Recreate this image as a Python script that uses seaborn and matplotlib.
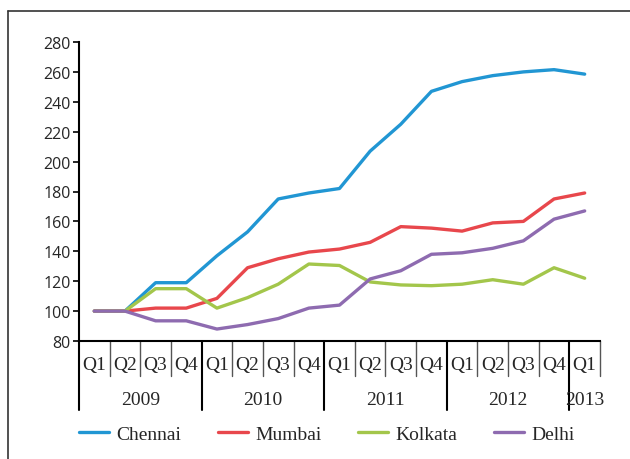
import matplotlib
matplotlib.use("Agg")
import matplotlib.pyplot as plt
import matplotlib.transforms as mtransforms
from matplotlib.lines import Line2D
import numpy as np
import pandas as pd
import seaborn as sns

# data (index, Q1 2009 = 100)
quarters = ["Q1", "Q2", "Q3", "Q4"] * 4 + ["Q1"]
years = ["2009", "2010", "2011", "2012", "2013"]
quarters_per_year = [4, 4, 4, 4, 1]
cities = ["Chennai", "Mumbai", "Kolkata", "Delhi"]
colors = ["#2196d3", "#e8474c", "#a3c64b", "#8e6bb0"]

chennai = [100, 100, 119, 119, 137, 153, 175, 179, 182, 207, 225, 247, 253.5, 257.5, 260, 261.5, 258.5]
mumbai = [100, 100, 102, 102, 108.5, 129, 135, 139.5, 141.5, 146, 156.5, 155.5, 153.5, 159, 160, 175, 179]
kolkata = [100, 100, 115, 115, 102, 109, 118, 131.5, 130.5, 119.5, 117.5, 117, 118, 121, 118, 129, 122]
delhi = [100, 100, 93.5, 93.5, 88, 91, 95, 102, 104, 121.5, 127, 138, 139, 142, 147, 161.5, 167]

n = len(quarters)
pos = np.arange(n)
df = pd.DataFrame({
    "pos": np.tile(pos, 4),
    "value": chennai + mumbai + kolkata + delhi,
    "city": np.repeat(cities, n),
})

sns.set_theme(style="white")
plt.rcParams["font.family"] = ["Open Sans", "DejaVu Sans"]

fig = plt.figure(figsize=(6.3, 4.6), dpi=100)
ax = fig.add_axes([79 / 630, 1 - 342 / 460, 521 / 630, 299 / 460])

sns.lineplot(data=df, x="pos", y="value", hue="city", hue_order=cities,
             palette=colors, linewidth=2.4, ax=ax, legend=False)

ax.set_xlim(-0.5, n - 0.5)
ax.set_ylim(80, 280)
ax.set_yticks(np.arange(80, 281, 20))
ax.tick_params(axis="y", direction="out", length=4, width=1.2, color="black",
               labelsize=11.5, pad=2, left=True)
ax.set_xlabel("")
ax.set_ylabel("")

serif = ["Liberation Serif", "DejaVu Serif"]
ax.set_xticks(pos)
ax.set_xticklabels(quarters, fontfamily=serif, fontsize=14)
ax.tick_params(axis="x", length=0, pad=11)

for side in ["top", "right"]:
    ax.spines[side].set_visible(False)
for side in ["left", "bottom"]:
    ax.spines[side].set_color("black")
    ax.spines[side].set_linewidth(1.5)

# category separators below the axis
trans = mtransforms.blended_transform_factory(ax.transData, ax.transAxes)
year_edges = np.concatenate([[0], np.cumsum(quarters_per_year)]) - 0.5
for k in range(n + 1):
    x = k - 0.5
    if np.isclose(year_edges[:-1], x).any():
        ax.plot([x, x], [0, -0.231], transform=trans, color="black", lw=1.5,
                clip_on=False)
    else:
        ax.plot([x, x], [0, -0.117], transform=trans, color="#555555", lw=1.0,
                clip_on=False)

for i, yr in enumerate(years):
    centre = (year_edges[i] + year_edges[i + 1]) / 2
    ax.text(centre, -0.194, yr, transform=trans, ha="center", va="center",
            fontfamily=serif, fontsize=14)

handles = [Line2D([0], [0], color=c, lw=2.4) for c in colors]
fig.legend(handles, cities, loc="center left", bbox_to_anchor=(79 / 630, 1 - 435 / 460),
           ncol=4, frameon=False, borderpad=0, borderaxespad=0, handlelength=1.55,
           handletextpad=0.36, columnspacing=1.9, prop={"family": serif, "size": 14})

# outer frame (left and top edges visible in the reference)
fig.add_artist(Line2D([8 / 630, 8 / 630], [0, 1 - 12 / 460], color="#333333", lw=1.2))
fig.add_artist(Line2D([8 / 630, 1], [1 - 12 / 460, 1 - 12 / 460], color="#333333", lw=1.2))

fig.savefig("out.png", dpi=100)
